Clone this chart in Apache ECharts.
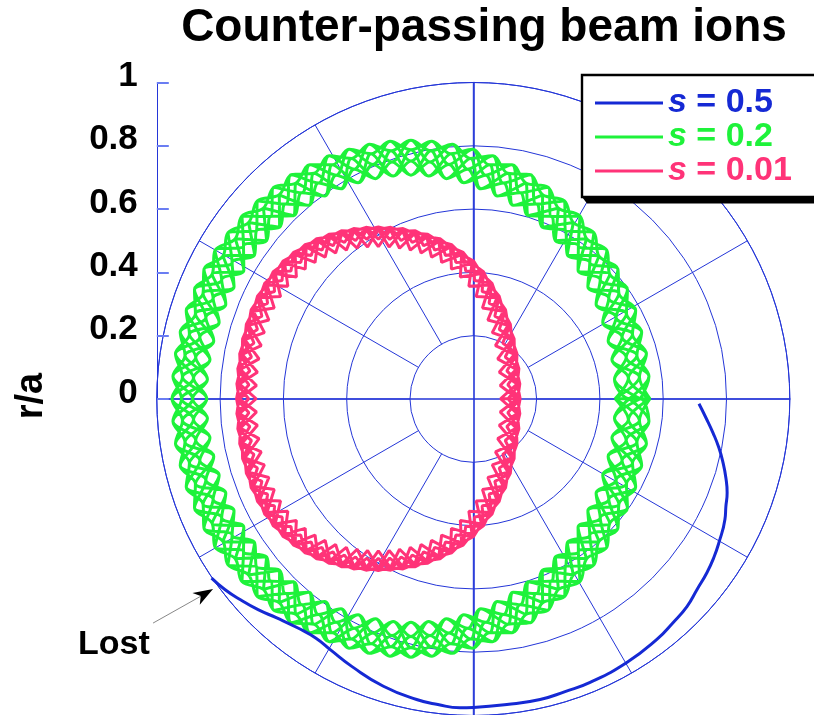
<!DOCTYPE html>
<html>
<head>
<meta charset="utf-8">
<script src="https://cdn.jsdelivr.net/npm/echarts@6/dist/echarts.min.js"></script>
<style>
html,body{margin:0;padding:0;background:#fff;}
#chart{width:814px;height:715px;}
</style>
</head>
<body>
<div id="chart"></div>
<script>
// Guiding-centre orbit traces in the poloidal plane, coordinates in r/a (x, y).
const seriesNames = ['s = 0.5', 's = 0.2', 's = 0.01'];
const seriesColors = ['#1529d4', '#1ef23a', '#ff3378'];
const rTickLabels = ['0', '0.2', '0.4', '0.6', '0.8', '1'];

// s = 0.5 : single lost orbit
const s05 = [[0.713,-0.016],[0.735,-0.060],[0.757,-0.107],[0.776,-0.155],[0.789,-0.202],[0.798,-0.250],[0.802,-0.297],[0.798,-0.341],[0.795,-0.382],[0.776,-0.455],[0.760,-0.502],[0.738,-0.550],[0.707,-0.603],[0.675,-0.657],[0.631,-0.708],[0.580,-0.761],[0.485,-0.834],[0.369,-0.897],[0.290,-0.926],[0.211,-0.951],[0.106,-0.967],[0.000,-0.976],[-0.042,-0.977],[-0.112,-0.967],[-0.179,-0.951],[-0.284,-0.909],[-0.383,-0.847],[-0.450,-0.795],[-0.497,-0.757],[-0.554,-0.725],[-0.621,-0.693],[-0.680,-0.667],[-0.737,-0.635],[-0.785,-0.603],[-0.827,-0.567]];

// s = 0.2 : eight poloidal transits
const s02a = [[.558,0],[.490,.066],[.547,.142],[.470,.195],[.513,.279],[.428,.318],[.457,.409],[.368,.431],[.381,.525],[.291,.532],[.288,.626],[.199,.616],[.181,.708],[.095,.682],[.061,.768],[-.018,.726],[-.066,.805],[-.137,.749],[-.197,.817],[-.257,.749],[-.328,.805],[-.376,.726],[-.455,.768],[-.489,.682],[-.575,.708],[-.593,.616],[-.682,.626],[-.685,.532],[-.775,.525],[-.762,.431],[-.851,.409],[-.822,.318],[-.907,.279],[-.864,.195],[-.941,.142],[-.884,.066],[-.952,0],[-.884,-.066],[-.941,-.142],[-.864,-.195],[-.907,-.279],[-.822,-.318],[-.851,-.409],[-.762,-.431],[-.775,-.525],[-.685,-.532],[-.682,-.626],[-.593,-.616],[-.575,-.708],[-.489,-.682],[-.455,-.768],[-.376,-.726],[-.328,-.805],[-.257,-.749],[-.197,-.817],[-.137,-.749],[-.066,-.805],[-.018,-.726],[.061,-.768],[.095,-.682],[.181,-.708],[.199,-.616],[.288,-.626],[.291,-.532],[.381,-.525],[.368,-.431],[.457,-.409],[.428,-.318],[.513,-.279],[.470,-.195],[.547,-.142],[.490,-.066],[.558,0]];
const s02b = [[.493,0],[.555,.071],[.483,.131],[.532,.211],[.451,.257],[.487,.345],[.401,.376],[.422,.469],[.332,.483],[.337,.578],[.247,.576],[.236,.669],[.148,.651],[.122,.740],[.039,.707],[-.002,.789],[-.077,.741],[-.131,.814],[-.197,.752],[-.263,.814],[-.317,.741],[-.392,.789],[-.433,.707],[-.516,.740],[-.542,.651],[-.630,.669],[-.641,.576],[-.731,.578],[-.726,.483],[-.816,.469],[-.795,.376],[-.881,.345],[-.845,.257],[-.926,.211],[-.877,.131],[-.949,.071],[-.887,0],[-.949,-.071],[-.877,-.131],[-.926,-.211],[-.845,-.257],[-.881,-.345],[-.795,-.376],[-.816,-.469],[-.726,-.483],[-.731,-.578],[-.641,-.576],[-.630,-.669],[-.542,-.651],[-.516,-.740],[-.433,-.707],[-.392,-.789],[-.317,-.741],[-.263,-.814],[-.197,-.752],[-.131,-.814],[-.077,-.741],[-.002,-.789],[.039,-.707],[.122,-.740],[.148,-.651],[.236,-.669],[.247,-.576],[.337,-.578],[.332,-.483],[.422,-.469],[.401,-.376],[.487,-.345],[.451,-.257],[.532,-.211],[.483,-.131],[.555,-.071],[.493,0]];
const s02c = [[.528,0],[.446,.062],[.517,.137],[.426,.183],[.484,.269],[.388,.299],[.431,.394],[.331,.406],[.358,.506],[.259,.500],[.269,.603],[.173,.579],[.166,.682],[.076,.641],[.051,.740],[-.030,.683],[-.071,.775],[-.141,.704],[-.197,.787],[-.253,.704],[-.323,.775],[-.364,.683],[-.445,.740],[-.470,.641],[-.560,.682],[-.567,.579],[-.663,.603],[-.653,.500],[-.752,.506],[-.725,.406],[-.825,.394],[-.782,.299],[-.878,.269],[-.820,.183],[-.911,.137],[-.840,.062],[-.922,0],[-.840,-.062],[-.911,-.137],[-.820,-.183],[-.878,-.269],[-.782,-.299],[-.825,-.394],[-.725,-.406],[-.752,-.506],[-.653,-.500],[-.663,-.603],[-.567,-.579],[-.560,-.682],[-.470,-.641],[-.445,-.740],[-.364,-.683],[-.323,-.775],[-.253,-.704],[-.197,-.787],[-.141,-.704],[-.071,-.775],[-.030,-.683],[.051,-.740],[.076,-.641],[.166,-.682],[.173,-.579],[.269,-.603],[.259,-.500],[.358,-.506],[.331,-.406],[.431,-.394],[.388,-.299],[.484,-.269],[.426,-.183],[.517,-.137],[.446,-.062],[.528,0]];
const s02d = [[.448,0],[.525,.069],[.438,.123],[.503,.204],[.409,.242],[.460,.333],[.362,.354],[.397,.451],[.297,.455],[.316,.557],[.218,.542],[.219,.645],[.126,.612],[.109,.713],[.024,.664],[-.009,.760],[-.085,.696],[-.134,.784],[-.197,.707],[-.260,.784],[-.309,.696],[-.385,.760],[-.418,.664],[-.503,.713],[-.520,.612],[-.613,.645],[-.612,.542],[-.710,.557],[-.691,.455],[-.791,.451],[-.756,.354],[-.854,.333],[-.803,.242],[-.897,.204],[-.832,.123],[-.919,.069],[-.842,0],[-.919,-.069],[-.832,-.123],[-.897,-.204],[-.803,-.242],[-.854,-.333],[-.756,-.354],[-.791,-.451],[-.691,-.455],[-.710,-.557],[-.612,-.542],[-.613,-.645],[-.520,-.612],[-.503,-.713],[-.418,-.664],[-.385,-.760],[-.309,-.696],[-.260,-.784],[-.197,-.707],[-.134,-.784],[-.085,-.696],[-.009,-.760],[.024,-.664],[.109,-.713],[.126,-.612],[.219,-.645],[.218,-.542],[.316,-.557],[.297,-.455],[.397,-.451],[.362,-.354],[.460,-.333],[.409,-.242],[.503,-.204],[.438,-.123],[.525,-.069],[.448,0]];
const s02e = [[.558,0],[.525,.069],[.547,.142],[.503,.204],[.513,.279],[.460,.333],[.457,.409],[.397,.451],[.381,.525],[.316,.557],[.288,.626],[.219,.645],[.181,.708],[.109,.713],[.061,.768],[-.009,.760],[-.066,.805],[-.134,.784],[-.197,.817],[-.260,.784],[-.328,.805],[-.385,.760],[-.455,.768],[-.503,.713],[-.575,.708],[-.613,.645],[-.682,.626],[-.710,.557],[-.775,.525],[-.791,.451],[-.851,.409],[-.854,.333],[-.907,.279],[-.897,.204],[-.941,.142],[-.919,.069],[-.952,0],[-.919,-.069],[-.941,-.142],[-.897,-.204],[-.907,-.279],[-.854,-.333],[-.851,-.409],[-.791,-.451],[-.775,-.525],[-.710,-.557],[-.682,-.626],[-.613,-.645],[-.575,-.708],[-.503,-.713],[-.455,-.768],[-.385,-.760],[-.328,-.805],[-.260,-.784],[-.197,-.817],[-.134,-.784],[-.066,-.805],[-.009,-.760],[.061,-.768],[.109,-.713],[.181,-.708],[.219,-.645],[.288,-.626],[.316,-.557],[.381,-.525],[.397,-.451],[.457,-.409],[.460,-.333],[.513,-.279],[.503,-.204],[.547,-.142],[.525,-.069],[.558,0]];
const s02f = [[.528,0],[.555,.071],[.517,.137],[.532,.211],[.484,.269],[.487,.345],[.431,.394],[.422,.469],[.358,.506],[.337,.578],[.269,.603],[.236,.669],[.166,.682],[.122,.740],[.051,.740],[-.002,.789],[-.071,.775],[-.131,.814],[-.197,.787],[-.263,.814],[-.323,.775],[-.392,.789],[-.445,.740],[-.516,.740],[-.560,.682],[-.630,.669],[-.663,.603],[-.731,.578],[-.752,.506],[-.816,.469],[-.825,.394],[-.881,.345],[-.878,.269],[-.926,.211],[-.911,.137],[-.949,.071],[-.922,0],[-.949,-.071],[-.911,-.137],[-.926,-.211],[-.878,-.269],[-.881,-.345],[-.825,-.394],[-.816,-.469],[-.752,-.506],[-.731,-.578],[-.663,-.603],[-.630,-.669],[-.560,-.682],[-.516,-.740],[-.445,-.740],[-.392,-.789],[-.323,-.775],[-.263,-.814],[-.197,-.787],[-.131,-.814],[-.071,-.775],[-.002,-.789],[.051,-.740],[.122,-.740],[.166,-.682],[.236,-.669],[.269,-.603],[.337,-.578],[.358,-.506],[.422,-.469],[.431,-.394],[.487,-.345],[.484,-.269],[.532,-.211],[.517,-.137],[.555,-.071],[.528,0]];
const s02g = [[.493,0],[.446,.062],[.483,.131],[.426,.183],[.451,.257],[.388,.299],[.401,.376],[.331,.406],[.332,.483],[.259,.500],[.247,.576],[.173,.579],[.148,.651],[.076,.641],[.039,.707],[-.030,.683],[-.077,.741],[-.141,.704],[-.197,.752],[-.253,.704],[-.317,.741],[-.364,.683],[-.433,.707],[-.470,.641],[-.542,.651],[-.567,.579],[-.641,.576],[-.653,.500],[-.726,.483],[-.725,.406],[-.795,.376],[-.782,.299],[-.845,.257],[-.820,.183],[-.877,.131],[-.840,.062],[-.887,0],[-.840,-.062],[-.877,-.131],[-.820,-.183],[-.845,-.257],[-.782,-.299],[-.795,-.376],[-.725,-.406],[-.726,-.483],[-.653,-.500],[-.641,-.576],[-.567,-.579],[-.542,-.651],[-.470,-.641],[-.433,-.707],[-.364,-.683],[-.317,-.741],[-.253,-.704],[-.197,-.752],[-.141,-.704],[-.077,-.741],[-.030,-.683],[.039,-.707],[.076,-.641],[.148,-.651],[.173,-.579],[.247,-.576],[.259,-.500],[.332,-.483],[.331,-.406],[.401,-.376],[.388,-.299],[.451,-.257],[.426,-.183],[.483,-.131],[.446,-.062],[.493,0]];
const s02h = [[.448,0],[.490,.066],[.438,.123],[.470,.195],[.409,.242],[.428,.318],[.362,.354],[.368,.431],[.297,.455],[.291,.532],[.218,.542],[.199,.616],[.126,.612],[.095,.682],[.024,.664],[-.018,.726],[-.085,.696],[-.137,.749],[-.197,.707],[-.257,.749],[-.309,.696],[-.376,.726],[-.418,.664],[-.489,.682],[-.520,.612],[-.593,.616],[-.612,.542],[-.685,.532],[-.691,.455],[-.762,.431],[-.756,.354],[-.822,.318],[-.803,.242],[-.864,.195],[-.832,.123],[-.884,.066],[-.842,0],[-.884,-.066],[-.832,-.123],[-.864,-.195],[-.803,-.242],[-.822,-.318],[-.756,-.354],[-.762,-.431],[-.691,-.455],[-.685,-.532],[-.612,-.542],[-.593,-.616],[-.520,-.612],[-.489,-.682],[-.418,-.664],[-.376,-.726],[-.309,-.696],[-.257,-.749],[-.197,-.707],[-.137,-.749],[-.085,-.696],[-.018,-.726],[.024,-.664],[.095,-.682],[.126,-.612],[.199,-.616],[.218,-.542],[.291,-.532],[.297,-.455],[.368,-.431],[.362,-.354],[.428,-.318],[.409,-.242],[.470,-.195],[.438,-.123],[.490,-.066],[.448,0]];

// s = 0.01 : six poloidal transits
const s001a = [[.148,0],[.109,.044],[.144,.095],[.101,.132],[.129,.189],[.082,.219],[.102,.281],[.050,.302],[.059,.365],[.004,.374],[.001,.435],[-.055,.431],[-.068,.487],[-.122,.470],[-.144,.520],[-.193,.494],[-.222,.538],[-.264,.504],[-.300,.543],[-.336,.504],[-.378,.538],[-.407,.494],[-.456,.520],[-.478,.470],[-.532,.487],[-.545,.431],[-.601,.435],[-.604,.374],[-.659,.365],[-.650,.302],[-.702,.281],[-.682,.219],[-.729,.189],[-.701,.132],[-.744,.095],[-.709,.044],[-.748,0],[-.709,-.044],[-.744,-.095],[-.701,-.132],[-.729,-.189],[-.682,-.219],[-.702,-.281],[-.650,-.302],[-.659,-.365],[-.604,-.374],[-.601,-.435],[-.545,-.431],[-.532,-.487],[-.478,-.470],[-.456,-.520],[-.407,-.494],[-.378,-.538],[-.336,-.504],[-.300,-.543],[-.264,-.504],[-.222,-.538],[-.193,-.494],[-.144,-.520],[-.122,-.470],[-.068,-.487],[-.055,-.431],[.001,-.435],[.004,-.374],[.059,-.365],[.050,-.302],[.102,-.281],[.082,-.219],[.129,-.189],[.101,-.132],[.144,-.095],[.109,-.044],[.148,0]];
const s001b = [[.110,0],[.147,.047],[.106,.088],[.138,.142],[.093,.176],[.117,.236],[.068,.261],[.082,.324],[.028,.339],[.032,.402],[-.024,.404],[-.032,.463],[-.088,.453],[-.105,.506],[-.157,.484],[-.183,.531],[-.228,.500],[-.261,.542],[-.300,.505],[-.339,.542],[-.372,.500],[-.417,.531],[-.443,.484],[-.495,.506],[-.512,.453],[-.568,.463],[-.576,.404],[-.632,.402],[-.628,.339],[-.682,.324],[-.668,.261],[-.717,.236],[-.693,.176],[-.738,.142],[-.706,.088],[-.747,.047],[-.710,0],[-.747,-.047],[-.706,-.088],[-.738,-.142],[-.693,-.176],[-.717,-.236],[-.668,-.261],[-.682,-.324],[-.628,-.339],[-.632,-.402],[-.576,-.404],[-.568,-.463],[-.512,-.453],[-.495,-.506],[-.443,-.484],[-.417,-.531],[-.372,-.500],[-.339,-.542],[-.300,-.505],[-.261,-.542],[-.228,-.500],[-.183,-.531],[-.157,-.484],[-.105,-.506],[-.088,-.453],[-.032,-.463],[-.024,-.404],[.032,-.402],[.028,-.339],[.082,-.324],[.068,-.261],[.117,-.236],[.093,-.176],[.138,-.142],[.106,-.088],[.147,-.047],[.110,0]];
const s001c = [[.140,0],[.085,.042],[.136,.093],[.077,.126],[.122,.187],[.060,.209],[.095,.277],[.029,.287],[.052,.360],[-.014,.356],[-.004,.428],[-.069,.410],[-.072,.480],[-.132,.448],[-.147,.512],[-.199,.470],[-.223,.530],[-.266,.480],[-.300,.535],[-.334,.480],[-.377,.530],[-.401,.470],[-.453,.512],[-.468,.448],[-.528,.480],[-.531,.410],[-.596,.428],[-.586,.356],[-.652,.360],[-.629,.287],[-.695,.277],[-.660,.209],[-.722,.187],[-.677,.126],[-.736,.093],[-.685,.042],[-.740,0],[-.685,-.042],[-.736,-.093],[-.677,-.126],[-.722,-.187],[-.660,-.209],[-.695,-.277],[-.629,-.287],[-.652,-.360],[-.586,-.356],[-.596,-.428],[-.531,-.410],[-.528,-.480],[-.468,-.448],[-.453,-.512],[-.401,-.470],[-.377,-.530],[-.334,-.480],[-.300,-.535],[-.266,-.480],[-.223,-.530],[-.199,-.470],[-.147,-.512],[-.132,-.448],[-.072,-.480],[-.069,-.410],[-.004,-.428],[-.014,-.356],[.052,-.360],[.029,-.287],[.095,-.277],[.060,-.209],[.122,-.187],[.077,-.126],[.136,-.093],[.085,-.042],[.140,0]];
const s001d = [[.086,0],[.139,.047],[.082,.084],[.130,.140],[.070,.168],[.110,.232],[.046,.249],[.075,.320],[.009,.323],[.026,.396],[-.041,.385],[-.037,.456],[-.100,.431],[-.109,.498],[-.165,.461],[-.185,.523],[-.233,.476],[-.262,.534],[-.300,.481],[-.338,.534],[-.367,.476],[-.415,.523],[-.435,.461],[-.491,.498],[-.500,.431],[-.563,.456],[-.559,.385],[-.626,.396],[-.609,.323],[-.675,.320],[-.646,.249],[-.710,.232],[-.670,.168],[-.730,.140],[-.682,.084],[-.739,.047],[-.686,0],[-.739,-.047],[-.682,-.084],[-.730,-.140],[-.670,-.168],[-.710,-.232],[-.646,-.249],[-.675,-.320],[-.609,-.323],[-.626,-.396],[-.559,-.385],[-.563,-.456],[-.500,-.431],[-.491,-.498],[-.435,-.461],[-.415,-.523],[-.367,-.476],[-.338,-.534],[-.300,-.481],[-.262,-.534],[-.233,-.476],[-.185,-.523],[-.165,-.461],[-.109,-.498],[-.100,-.431],[-.037,-.456],[-.041,-.385],[.026,-.396],[.009,-.323],[.075,-.320],[.046,-.249],[.110,-.232],[.070,-.168],[.130,-.140],[.082,-.084],[.139,-.047],[.086,0]];
const s001e = [[.148,0],[.139,.047],[.144,.095],[.130,.140],[.129,.189],[.110,.232],[.102,.281],[.075,.320],[.059,.365],[.026,.396],[.001,.435],[-.037,.456],[-.068,.487],[-.109,.498],[-.144,.520],[-.185,.523],[-.222,.538],[-.262,.534],[-.300,.543],[-.338,.534],[-.378,.538],[-.415,.523],[-.456,.520],[-.491,.498],[-.532,.487],[-.563,.456],[-.601,.435],[-.626,.396],[-.659,.365],[-.675,.320],[-.702,.281],[-.710,.232],[-.729,.189],[-.730,.140],[-.744,.095],[-.739,.047],[-.748,0],[-.739,-.047],[-.744,-.095],[-.730,-.140],[-.729,-.189],[-.710,-.232],[-.702,-.281],[-.675,-.320],[-.659,-.365],[-.626,-.396],[-.601,-.435],[-.563,-.456],[-.532,-.487],[-.491,-.498],[-.456,-.520],[-.415,-.523],[-.378,-.538],[-.338,-.534],[-.300,-.543],[-.262,-.534],[-.222,-.538],[-.185,-.523],[-.144,-.520],[-.109,-.498],[-.068,-.487],[-.037,-.456],[.001,-.435],[.026,-.396],[.059,-.365],[.075,-.320],[.102,-.281],[.110,-.232],[.129,-.189],[.130,-.140],[.144,-.095],[.139,-.047],[.148,0]];
const s001f = [[.140,0],[.147,.047],[.136,.093],[.138,.142],[.122,.187],[.117,.236],[.095,.277],[.082,.324],[.052,.360],[.032,.402],[-.004,.428],[-.032,.463],[-.072,.480],[-.105,.506],[-.147,.512],[-.183,.531],[-.223,.530],[-.261,.542],[-.300,.535],[-.339,.542],[-.377,.530],[-.417,.531],[-.453,.512],[-.495,.506],[-.528,.480],[-.568,.463],[-.596,.428],[-.632,.402],[-.652,.360],[-.682,.324],[-.695,.277],[-.717,.236],[-.722,.187],[-.738,.142],[-.736,.093],[-.747,.047],[-.740,0],[-.747,-.047],[-.736,-.093],[-.738,-.142],[-.722,-.187],[-.717,-.236],[-.695,-.277],[-.682,-.324],[-.652,-.360],[-.632,-.402],[-.596,-.428],[-.568,-.463],[-.528,-.480],[-.495,-.506],[-.453,-.512],[-.417,-.531],[-.377,-.530],[-.339,-.542],[-.300,-.535],[-.261,-.542],[-.223,-.530],[-.183,-.531],[-.147,-.512],[-.105,-.506],[-.072,-.480],[-.032,-.463],[-.004,-.428],[.032,-.402],[.052,-.360],[.082,-.324],[.095,-.277],[.117,-.236],[.122,-.187],[.138,-.142],[.136,-.093],[.147,-.047],[.140,0]];

const s02 = [].concat(s02a, s02b, s02c, s02d, s02e, s02f, s02g, s02h);
const s001 = [].concat(s001a, s001b, s001c, s001d, s001e, s001f);

// plot frame: centre of the poloidal section and pixel radius of r/a = 1
const CX = 473.3, CY = 399, R = 316.5;
const GRID = '#2436d8';
const FONT = '"Liberation Sans", Arial, Helvetica, sans-serif';

const chart = echarts.init(document.getElementById('chart'), null, {renderer: 'canvas'});

const legendRich = {};
seriesNames.forEach((n, i) => {
  legendRich['i' + i] = {color: seriesColors[i], fontStyle: 'italic', fontWeight: 'bold', fontSize: 34, fontFamily: FONT, lineHeight: 33};
  legendRich['t' + i] = {color: seriesColors[i], fontWeight: 'bold', fontSize: 34, fontFamily: FONT, lineHeight: 33};
});

const option = {
  animation: false,
  backgroundColor: '#fff',
  title: {
    text: 'Counter-passing beam ions',
    left: 484, top: 5, textAlign: 'center', padding: 0,
    textStyle: {fontFamily: FONT, fontSize: 46, fontWeight: 'bold', color: '#000'}
  },
  legend: {
    orient: 'vertical', left: 582, top: 75, z: 10,
    padding: [11, 13, 11, 13], itemGap: 0, itemWidth: 68, itemHeight: 3, itemTextGap: 9,
    icon: 'rect', borderWidth: 0, backgroundColor: 'transparent',
    selectedMode: false,
    data: seriesNames,
    formatter: name => {
      const i = seriesNames.indexOf(name);
      return '{i' + i + '|s}{t' + i + '|' + name.slice(1) + '}';
    },
    textStyle: {rich: legendRich}
  },
  grid: [
    {left: CX - R, top: CY - R, width: 2 * R, height: 2 * R},
    {left: CX - R, top: CY - R, width: 2 * R, height: R}
  ],
  xAxis: [
    {gridIndex: 0, type: 'value', min: -1, max: 1,
     axisLine: {show: true, onZero: true, lineStyle: {color: GRID, width: 1.6}},
     axisTick: {show: false}, axisLabel: {show: false}, splitLine: {show: false}},
    {gridIndex: 1, type: 'value', min: -1, max: 1, show: false}
  ],
  yAxis: [
    {gridIndex: 0, type: 'value', min: -1, max: 1,
     axisLine: {show: true, onZero: true, lineStyle: {color: GRID, width: 1.6}},
     axisTick: {show: false}, axisLabel: {show: false}, splitLine: {show: false}},
    {gridIndex: 1, type: 'value', min: 0, max: 1, interval: 0.2, position: 'left',
     axisLine: {show: true, onZero: false, lineStyle: {color: GRID, width: 1}},
     axisTick: {show: true, inside: true, length: 12, lineStyle: {color: '#6a7df2', width: 2}},
     axisLabel: {margin: 19, fontSize: 35, fontWeight: 'bold', color: '#000', fontFamily: FONT,
                 verticalAlign: 'bottom', lineHeight: 12,
                 formatter: v => rTickLabels[Math.round(v / 0.2)]},
     splitLine: {show: false}}
  ],
  polar: [
    {center: [CX, CY], radius: [0, R]},
    {center: [CX, CY], radius: [R * 0.2, R]}
  ],
  radiusAxis: [
    {polarIndex: 0, type: 'value', min: 0, max: 1, interval: 0.2,
     axisLine: {show: false}, axisTick: {show: false}, axisLabel: {show: false},
     splitLine: {show: true, lineStyle: {color: GRID, width: 1}}},
    {polarIndex: 1, type: 'value', min: 0, max: 1, show: false}
  ],
  angleAxis: [
    {polarIndex: 0, type: 'value', min: 0, max: 360, startAngle: 0, clockwise: false,
     axisLine: {show: true, lineStyle: {color: GRID, width: 1}},
     axisTick: {show: false}, axisLabel: {show: false}, splitLine: {show: false}},
    {polarIndex: 1, type: 'value', min: 0, max: 360, interval: 30, startAngle: 0, clockwise: false,
     axisLine: {show: false}, axisTick: {show: false}, axisLabel: {show: false},
     splitLine: {show: true, lineStyle: {color: GRID, width: 1}}}
  ],
  series: [
    {name: seriesNames[1], type: 'line', xAxisIndex: 0, yAxisIndex: 0, data: s02,
     symbol: 'none', smooth: 0.35, lineStyle: {color: seriesColors[1], width: 3}, itemStyle: {color: seriesColors[1]}, z: 3},
    {name: seriesNames[2], type: 'line', xAxisIndex: 0, yAxisIndex: 0, data: s001,
     symbol: 'none', lineStyle: {color: seriesColors[2], width: 3}, itemStyle: {color: seriesColors[2]}, z: 3},
    {name: seriesNames[0], type: 'line', xAxisIndex: 0, yAxisIndex: 0, data: s05,
     symbol: 'none', smooth: true, lineStyle: {color: seriesColors[0], width: 3}, itemStyle: {color: seriesColors[0]}, z: 4}
  ]
};
chart.setOption(option);

// legend frame: open on the right, running off the canvas, with a hard shadow under it
const BX = 582, BY = 75, BB = 197, BR = 900;
// annotation pointing at the point where the s = 0.5 orbit leaves the plasma
const lostAt = chart.convertToPixel({gridIndex: 0}, s05[s05.length - 1]);
const tip = [lostAt[0] + 1.5, lostAt[1] + 11];
chart.setOption({
  graphic: [
    {type: 'polygon', z: 8, shape: {points: [[BX, BB], [BR, BB], [BR, BB + 6.5], [BX + 5, BB + 6.5]]},
     style: {fill: '#000'}},
    {type: 'rect', z: 9, shape: {x: BX, y: BY, width: BR - BX, height: BB - BY},
     style: {fill: '#fff', stroke: null}},
    {type: 'polyline', z: 9, shape: {points: [[BR, BY], [BX, BY], [BX, BB], [BR, BB]]},
     style: {stroke: '#000', lineWidth: 2.4, fill: null}},
    {type: 'text', x: 32, y: 396, rotation: Math.PI / 2,
     style: {text: 'r/a', fontFamily: FONT, fontSize: 38, fontWeight: 'bold', fill: '#000', align: 'center', verticalAlign: 'middle'}},
    {type: 'text', x: 78, y: 645,
     style: {text: 'Lost', fontFamily: FONT, fontSize: 34, fontWeight: 'bold', fill: '#000', align: 'left', verticalAlign: 'middle'}},
    {type: 'line', shape: {x1: tip[0] - 60, y1: tip[1] + 34, x2: tip[0] - 12, y2: tip[1] + 7},
     style: {stroke: '#888', lineWidth: 1}},
    {type: 'polygon', shape: {points: [[tip[0], tip[1]], [tip[0] - 20.6, tip[1] + 4], [tip[0] - 12.3, tip[1] + 7], [tip[0] - 13.3, tip[1] + 15.7]]},
     style: {fill: '#000'}}
  ]
});
</script>
</body>
</html>
